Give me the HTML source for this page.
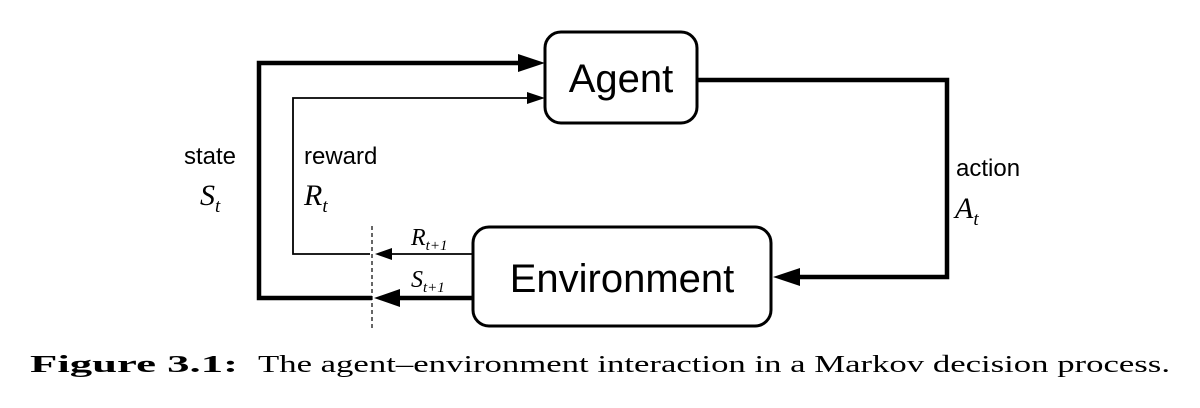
<!DOCTYPE html>
<html><head><meta charset="utf-8"><style>
html,body{margin:0;padding:0;background:#fff;}
svg{display:block;}
.s{font-family:"Liberation Sans",sans-serif;}
.m{font-family:"Liberation Serif",serif;font-style:italic;}
</style></head><body>
<svg width="1200" height="408" viewBox="0 0 1200 408" xmlns="http://www.w3.org/2000/svg">
<!-- boxes -->
<rect x="545" y="32" width="152" height="91" rx="16" fill="#fff" stroke="#000" stroke-width="3"/>
<text x="621" y="92" class="s" font-size="40" text-anchor="middle">Agent</text>
<rect x="473" y="227" width="298" height="99" rx="16" fill="#fff" stroke="#000" stroke-width="3"/>
<text x="622" y="292" class="s" font-size="40" text-anchor="middle">Environment</text>
<!-- state loop (thick) -->
<polyline points="372,298 259,298 259,63 520,63" fill="none" stroke="#000" stroke-width="4.5"/>
<polygon points="545,63 518,54 518,72" fill="#000"/>
<!-- reward loop (thin) -->
<polyline points="370,254 293,254 293,98 528,98" fill="none" stroke="#000" stroke-width="1.8"/>
<polygon points="545,98 527,92 527,104" fill="#000"/>
<!-- R t+1 arrow -->
<line x1="473" y1="254" x2="388" y2="254" stroke="#000" stroke-width="1.8"/>
<polygon points="375,254 392,248 392,260" fill="#000"/>
<!-- S t+1 arrow -->
<line x1="473" y1="298" x2="396" y2="298" stroke="#000" stroke-width="4.5"/>
<polygon points="374,298 400,289 400,307" fill="#000"/>
<!-- dashed -->
<line x1="372" y1="226" x2="372" y2="328" stroke="#000" stroke-width="1.2" stroke-dasharray="4,3"/>
<!-- action -->
<polyline points="697,80 947,80 947,277 798,277" fill="none" stroke="#000" stroke-width="4.5"/>
<polygon points="773,277 800,268 800,286" fill="#000"/>
<!-- labels -->
<text x="184" y="164" class="s" font-size="24">state</text>
<text x="200" y="205" class="m" font-size="30">S<tspan font-size="19" dy="7">t</tspan></text>
<text x="304" y="164" class="s" font-size="24">reward</text>
<text x="304" y="205" class="m" font-size="30">R<tspan font-size="19" dy="7">t</tspan></text>
<text x="956" y="176" class="s" font-size="24">action</text>
<text x="955" y="218" class="m" font-size="30">A<tspan font-size="19" dy="7">t</tspan></text>
<text x="411" y="245" class="m" font-size="24">R<tspan font-size="15" dy="5">t+1</tspan></text>
<text x="411" y="287" class="m" font-size="24">S<tspan font-size="15" dy="5">t+1</tspan></text>
<!-- caption -->
<text x="30" y="372" font-family="Liberation Serif,serif" font-size="24" font-weight="bold" textLength="208" lengthAdjust="spacingAndGlyphs">Figure 3.1:</text>
<text x="258" y="372" font-family="Liberation Serif,serif" font-size="24" textLength="912" lengthAdjust="spacingAndGlyphs">The agent–environment interaction in a Markov decision process.</text>
</svg>
</body></html>
